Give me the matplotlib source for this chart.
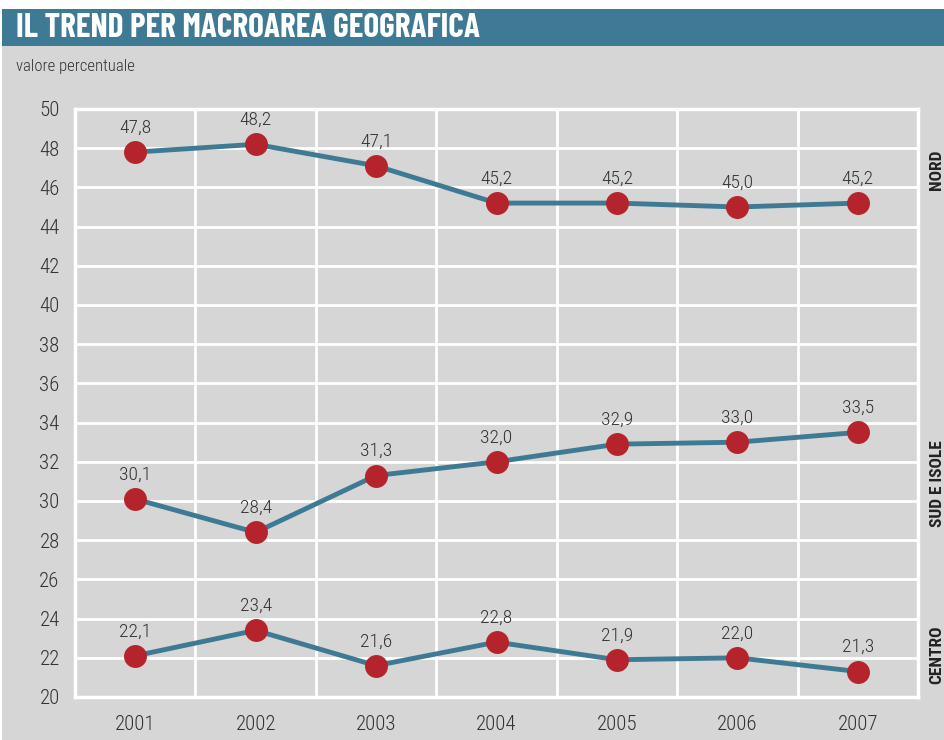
import matplotlib
matplotlib.use("Agg")
import matplotlib.pyplot as plt
from matplotlib.patches import Rectangle
from matplotlib import font_manager

years = [2001, 2002, 2003, 2004, 2005, 2006, 2007]
nord = [47.8, 48.2, 47.1, 45.2, 45.2, 45.0, 45.2]
sud = [30.1, 28.4, 31.3, 32.0, 32.9, 33.0, 33.5]
centro = [22.1, 23.4, 21.6, 22.8, 21.9, 22.0, 21.3]
series = [("NORD", nord), ("SUD E ISOLE", sud), ("CENTRO", centro)]
yticks = list(range(20, 51, 2))

names = {f.name for f in font_manager.fontManager.ttflist}
def pick(cands):
    for c in cands:
        if c in names:
            return c
    return "DejaVu Sans"
cond = pick(["Roboto Condensed", "Archivo Narrow", "Barlow Semi Condensed", "Barlow Condensed", "Liberation Sans Narrow"])
title_font = pick(["Barlow Condensed", "Roboto Condensed", "Archivo Narrow"])
plt.rcParams['font.family'] = [cond, 'DejaVu Sans']

W, H = 944, 740
fig = plt.figure(figsize=(W / 100, H / 100), dpi=100, facecolor="white")

BG = "#d5d6d5"
TEAL = "#3e7a93"
RED = "#b5242c"
TXT = "#333333"

def fx(x): return x / W
def fy(y): return 1 - y / H
fig.patches.append(Rectangle((fx(2), 0), 1 - fx(2), fy(46), transform=fig.transFigure,
                             facecolor=BG, edgecolor="none", zorder=-10))
fig.patches.append(Rectangle((fx(2), fy(46)), 1 - fx(2), fy(9) - fy(46), transform=fig.transFigure,
                             facecolor=TEAL, edgecolor="none", zorder=-10))
fig.text(fx(16), fy(28), "IL TREND PER MACROAREA GEOGRAFICA", color="white",
         fontsize=24, fontweight="bold", va="center", ha="left",
         family=[title_font, 'DejaVu Sans'])
fig.text(fx(16), fy(66), "valore percentuale", color=TXT, fontsize=12, va="center", ha="left",
         fontweight="light")

left, right, top, bottom = 75, 918, 109, 697
ax = fig.add_axes([fx(left), fy(bottom), fx(right) - fx(left), fy(top) - fy(bottom)])
ax.set_zorder(1)
ax.set_facecolor(BG)
ax.set_xlim(2000.5, 2007.5)
ax.set_ylim(20, 50)
ax.set_yticks(yticks)
ax.set_yticklabels([str(t) for t in yticks], fontweight="light")
ax.set_xticks(years)
ax.set_xticklabels([str(y) for y in years], fontweight="light")
ax.set_xticks([y + 0.5 for y in years[:-1]], minor=True)
ax.grid(True, which="major", axis="y", color="white", linewidth=2)
ax.grid(True, which="minor", axis="x", color="white", linewidth=2)
ax.grid(False, which="major", axis="x")
for s in ax.spines.values():
    s.set_color("white")
    s.set_linewidth(2.5)
ax.tick_params(axis="both", which="both", length=0, labelsize=15, colors=TXT)
ax.tick_params(axis="x", pad=13)
ax.tick_params(axis="y", pad=11)
ax.set_axisbelow(True)

for name, vals in series:
    ax.plot(years, vals, color=TEAL, linewidth=3.5, zorder=3, solid_capstyle="round")
    ax.plot(years, vals, linestyle="none", marker="o", markersize=15.5,
            markerfacecolor=RED, markeredgecolor=RED, zorder=4)
    for x, v in zip(years, vals):
        ax.annotate(f"{v:.1f}".replace(".", ","), (x, v), xytext=(0, 11),
                    textcoords="offset points", ha="center", va="bottom",
                    fontsize=14, fontweight="light", color=TXT, zorder=5)

label_y = {"NORD": 170, "SUD E ISOLE": 484, "CENTRO": 655}
for name, _ in series:
    fig.text(fx(937), fy(label_y[name]), name, rotation=90, ha="center", va="center",
             fontsize=12.5, fontweight="bold", color="#222222")

fig.savefig("out.png", dpi=100, facecolor="white")
